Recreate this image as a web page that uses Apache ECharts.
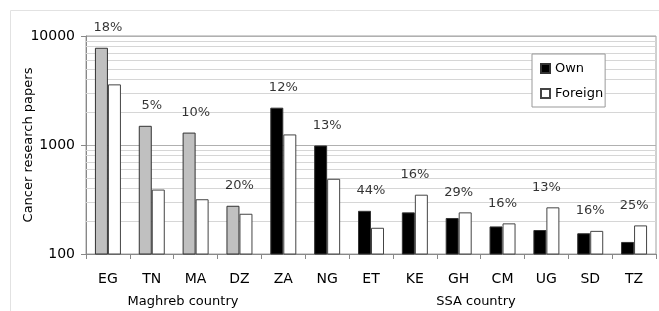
<!DOCTYPE html>
<html>
<head>
<meta charset="utf-8">
<script src="https://cdn.jsdelivr.net/npm/echarts@6/dist/echarts.min.js"></script>
<style>
  html, body { margin: 0; padding: 0; background: #fff; }
  #chart { width: 659px; height: 311px; }
</style>
</head>
<body>
<div id="chart"></div>
<script>
const countries = ["EG", "TN", "MA", "DZ", "ZA", "NG", "ET", "KE", "GH", "CM", "UG", "SD", "TZ"];
const region = ["Maghreb", "Maghreb", "Maghreb", "Maghreb", "SSA", "SSA", "SSA", "SSA", "SSA", "SSA", "SSA", "SSA", "SSA"];
const own = [7800, 1500, 1300, 277, 2200, 990, 249, 241, 214, 179, 166, 155, 129];
const foreign = [3600, 390, 318, 234, 1250, 490, 174, 350, 241, 191, 268, 163, 183];
const shares = [18, 5, 10, 20, 12, 13, 44, 16, 29, 16, 13, 16, 25];
const minorGrid = [200, 300, 400, 500, 600, 700, 800, 900, 2000, 3000, 4000, 5000, 6000, 7000, 8000, 9000];

const font = "DejaVu Sans";
const chart = echarts.init(document.getElementById("chart"));

const ownData = own.map(function (v, i) {
  if (region[i] === "Maghreb") return { value: v, itemStyle: { color: "#c0c0c0" } };
  return v;
});

chart.setOption({
  animation: false,
  textStyle: { fontFamily: font },
  grid: {
    left: 86, right: 3, top: 36, bottom: 57,
    show: true, borderColor: "#a0a0a0", borderWidth: 1
  },
  legend: {
    data: ["Own", "Foreign"],
    orient: "vertical",
    left: 532, top: 54,
    padding: [8, 2, 7, 8],
    itemWidth: 9, itemHeight: 9, itemGap: 12,
    icon: "rect",
    backgroundColor: "#fff",
    borderColor: "#999", borderWidth: 1,
    textStyle: { fontFamily: font, fontSize: 13, color: "#000" }
  },
  graphic: [
    { type: "rect", shape: { x: 10.5, y: 10.5, width: 700, height: 400 }, style: { fill: "none", stroke: "#e2e2e2", lineWidth: 1 }, z: -1 },
    { type: "text", x: 183, y: 302, style: { text: "Maghreb country", font: "13px '" + font + "'", fill: "#000", align: "center", verticalAlign: "middle" } },
    { type: "text", x: 476, y: 302, style: { text: "SSA country", font: "13px '" + font + "'", fill: "#000", align: "center", verticalAlign: "middle" } }
  ],
  xAxis: {
    type: "category",
    data: countries,
    axisLine: { lineStyle: { color: "#888" } },
    axisTick: { show: true, length: 5, lineStyle: { color: "#888" } },
    axisLabel: { fontSize: 14, color: "#000", margin: 18, fontFamily: font }
  },
  yAxis: {
    type: "log",
    logBase: 10,
    min: 100,
    max: 10000,
    name: "Cancer research papers",
    nameLocation: "middle",
    nameGap: 51,
    nameMoveOverlap: false,
    nameTextStyle: { fontSize: 13, color: "#000", fontFamily: font },
    axisLine: { show: true, lineStyle: { color: "#888" } },
    axisTick: { show: true, length: 5, lineStyle: { color: "#888" } },
    axisLabel: {
      fontSize: 14, color: "#000", margin: 11, fontFamily: font,
      formatter: function (v) { return String(Math.round(v)); }
    },
    splitLine: { lineStyle: { color: "#b0b0b0" } }
  },
  series: [
    {
      name: "Own",
      type: "bar",
      data: ownData,
      barWidth: 13,
      barGap: "0%",
      itemStyle: { color: "#000", borderColor: "#333", borderWidth: 1 }
    },
    {
      name: "Foreign",
      type: "bar",
      data: foreign,
      barWidth: 13,
      barGap: "0%",
      itemStyle: { color: "#fff", borderColor: "#444", borderWidth: 1 },
      markLine: {
        silent: true,
        z: 1,
        symbol: ["none", "none"],
        label: { show: false },
        lineStyle: { color: "#d6d6d6", type: "solid", width: 1 },
        emphasis: { disabled: true },
        data: minorGrid.map(function (v) { return { yAxis: v }; })
      }
    },
    {
      name: "share",
      type: "scatter",
      data: countries.map(function (c, i) { return [c, Math.max(own[i], foreign[i])]; }),
      symbolSize: 1,
      itemStyle: { color: "rgba(0,0,0,0)" },
      silent: true,
      label: {
        show: true,
        position: "top",
        distance: 13,
        fontSize: 13,
        color: "#000",
        fontFamily: font,
        formatter: function (p) { return shares[p.dataIndex] + "%"; }
      }
    }
  ]
});
</script>
</body>
</html>
